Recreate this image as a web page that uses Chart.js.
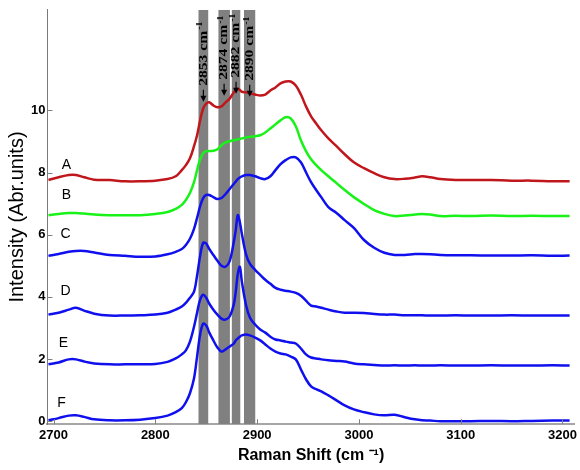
<!DOCTYPE html>
<html>
<head>
<meta charset="utf-8">
<script src="https://cdn.jsdelivr.net/npm/chart.js@4.4.1/dist/chart.umd.min.js"></script>
<style>
    html, body { margin: 0; padding: 0; background: #fff; }
</style>
</head>
<body>
<canvas id="raman_chart" width="580" height="470"></canvas>
<script>
// 라만 스펙트럼 데이터 (x: cm-1)
var wavenumber = [2695, 2705, 2715, 2722, 2730, 2740, 2755, 2770, 2785, 2800,
    2812, 2820, 2826, 2830, 2834, 2838, 2841, 2844, 2847, 2850,
    2853, 2857, 2861, 2865, 2869, 2873, 2877, 2879, 2881, 2883,
    2885, 2889, 2893, 2898, 2903, 2908, 2913, 2918, 2923, 2928,
    2933, 2938, 2943, 2948, 2953, 2958, 2963, 2970, 2978, 2986,
    2995, 3005, 3015, 3025, 3035, 3045, 3055, 3062, 3070, 3080,
    3095, 3110, 3130, 3150, 3170, 3190, 3207];

var seriesA = [7.76, 7.85, 7.92, 7.92, 7.85, 7.77, 7.76, 7.72, 7.72, 7.74,
    7.79, 7.88, 8.08, 8.24, 8.46, 8.85, 9.2, 9.68, 10.06, 10.22,
    10.26, 10.16, 10.1, 10.13, 10.26, 10.38, 10.58, 10.66, 10.7, 10.66,
    10.6, 10.58, 10.55, 10.51, 10.48, 10.51, 10.64, 10.74, 10.87, 10.93,
    10.93, 10.8, 10.51, 10.13, 9.81, 9.58, 9.36, 9.1, 8.85, 8.59,
    8.33, 8.14, 7.98, 7.85, 7.79, 7.8, 7.84, 7.88, 7.85, 7.79,
    7.76, 7.76, 7.76, 7.74, 7.74, 7.72, 7.72];
var seriesB = [6.63, 6.67, 6.7, 6.7, 6.68, 6.65, 6.63, 6.63, 6.63, 6.67,
    6.73, 6.83, 6.96, 7.12, 7.34, 7.69, 8.08, 8.43, 8.62, 8.69,
    8.69, 8.7, 8.75, 8.88, 8.97, 9.01, 9.04, 9.05, 9.07, 9.08,
    9.1, 9.13, 9.15, 9.17, 9.2, 9.29, 9.42, 9.55, 9.68, 9.78,
    9.74, 9.49, 9.04, 8.69, 8.43, 8.24, 8.08, 7.88, 7.66, 7.44,
    7.21, 6.99, 6.79, 6.67, 6.6, 6.62, 6.65, 6.67, 6.65, 6.6,
    6.61, 6.6, 6.62, 6.6, 6.61, 6.6, 6.6];
var seriesC = [5.32, 5.38, 5.45, 5.48, 5.48, 5.43, 5.35, 5.32, 5.29, 5.3,
    5.37, 5.45, 5.54, 5.67, 5.87, 6.19, 6.54, 6.92, 7.18, 7.28,
    7.28, 7.21, 7.15, 7.18, 7.31, 7.47, 7.63, 7.71, 7.79, 7.84,
    7.88, 7.92, 7.92, 7.88, 7.82, 7.79, 7.88, 8.08, 8.27, 8.4,
    8.49, 8.49, 8.33, 8.01, 7.69, 7.44, 7.21, 6.89, 6.7, 6.47,
    6.22, 5.83, 5.58, 5.42, 5.35, 5.35, 5.38, 5.38, 5.37, 5.35,
    5.34, 5.34, 5.33, 5.33, 5.34, 5.32, 5.33];
var seriesD = [3.43, 3.49, 3.59, 3.65, 3.56, 3.46, 3.4, 3.4, 3.41, 3.43,
    3.49, 3.59, 3.69, 3.81, 3.97, 4.17, 4.68, 5.32, 5.74, 5.71,
    5.54, 5.35, 5.16, 5.0, 4.97, 5.15, 5.75, 6.15, 6.63, 6.41,
    6.03, 5.38, 5.06, 4.87, 4.71, 4.55, 4.42, 4.29, 4.23, 4.2,
    4.17, 4.13, 4.04, 3.88, 3.72, 3.69, 3.65, 3.59, 3.53, 3.49,
    3.49, 3.48, 3.45, 3.43, 3.43, 3.41, 3.41, 3.41, 3.4, 3.4,
    3.41, 3.4, 3.4, 3.41, 3.4, 3.4, 3.4];
var seriesE = [1.83, 1.89, 1.99, 1.99, 1.92, 1.86, 1.83, 1.83, 1.83, 1.84,
    1.91, 2.02, 2.15, 2.28, 2.56, 3.04, 3.49, 3.91, 4.07, 3.97,
    3.78, 3.59, 3.43, 3.3, 3.27, 3.37, 3.75, 4.17, 4.74, 4.97,
    4.49, 3.75, 3.33, 3.11, 2.95, 2.85, 2.72, 2.63, 2.6, 2.56,
    2.53, 2.5, 2.34, 2.15, 2.05, 2.02, 1.99, 1.96, 1.94, 1.92,
    1.86, 1.83, 1.81, 1.79, 1.8, 1.79, 1.8, 1.79, 1.79, 1.8,
    1.79, 1.79, 1.8, 1.79, 1.79, 1.8, 1.79];
var seriesF = [0.03, 0.1, 0.18, 0.19, 0.14, 0.06, 0.03, 0.03, 0.05, 0.1,
    0.18, 0.29, 0.42, 0.61, 0.9, 1.38, 2.08, 2.79, 3.14, 3.08,
    2.85, 2.6, 2.37, 2.24, 2.31, 2.4, 2.5, 2.6, 2.66, 2.72,
    2.76, 2.79, 2.76, 2.69, 2.6, 2.47, 2.34, 2.24, 2.18, 2.15,
    2.08, 1.99, 1.67, 1.35, 1.12, 1.03, 0.96, 0.83, 0.67, 0.51,
    0.38, 0.29, 0.22, 0.19, 0.21, 0.13, 0.06, 0.03, 0.02, 0.0,
    0.0, 0.0, 0.01, 0.0, 0.01, 0.02, 0.02];

var seriesNames = ["A", "B", "C", "D", "E", "F"];
var letterX = [2712.6, 2712.6, 2711.7, 2711.7, 2709.7, 2707.7];
var letterY = [8.24, 7.28, 6.03, 4.17, 2.5, 0.58];

// 회색 밴드 (cm-1)
var bandStart = [2842.2, 2861.8, 2874.9, 2887.0];
var bandEnd = [2852.2, 2873.3, 2883.7, 2898.4];
var bandLabels = ["2853", "2874", "2882", "2890"];

var xTicks = [2700, 2800, 2900, 3000, 3100, 3200];
var yTicks = [0, 2, 4, 6, 8, 10];
var xMin = 2694, xMax = 3212;
var yMin = -0.096, yMax = 13.237;

var sansFont = "'Liberation Sans', Arial, sans-serif";
var serifFont = "'Liberation Serif', 'Times New Roman', serif";

var allSeries = [seriesA, seriesB, seriesC, seriesD, seriesE, seriesF];
var lineColors = ["#c0171d", "#19f219", "#1010ee", "#1010ee", "#1010ee", "#1010ee"];

var datasets = [];
for (var i = 0; i < allSeries.length; i++) {
    datasets.push({
        label: seriesNames[i],
        data: wavenumber.map(function (w, k) { return {x: w, y: allSeries[i][k]}; }),
        borderColor: lineColors[i],
        borderWidth: 2.5,
        pointRadius: 0,
        fill: false,
        tension: 0.35,
        order: 0
    });
}
for (var b = 0; b < bandStart.length; b++) {
    datasets.push({
        label: bandLabels[b],
        data: [{x: bandStart[b], y: yMax}, {x: bandEnd[b], y: yMax}],
        borderWidth: 0,
        borderColor: 'rgba(0,0,0,0)',
        backgroundColor: '#808080',
        pointRadius: 0,
        fill: 'start',
        order: 10
    });
}

// 안쪽 눈금
var tickMarkPlugin = {
    id: 'tickMarks',
    afterDatasetsDraw: function (chart) {
        var ctx = chart.ctx, a = chart.chartArea, xs = chart.scales.x, ys = chart.scales.y;
        ctx.save();
        ctx.strokeStyle = '#808080';
        ctx.lineWidth = 1;
        ctx.beginPath();
        xTicks.forEach(function (v) {
            var p = Math.round(xs.getPixelForValue(v)) + 0.5;
            ctx.moveTo(p, a.bottom);
            ctx.lineTo(p, a.bottom - 5);
        });
        yTicks.forEach(function (v) {
            var p = Math.round(ys.getPixelForValue(v)) + 0.5;
            ctx.moveTo(a.left, p);
            ctx.lineTo(a.left + 5, p);
        });
        ctx.stroke();
        ctx.restore();
    }
};

// 밴드 라벨 + 화살표, 곡선 이름
var textBase = [76, 70, 68, 71];
var annotationPlugin = {
    id: 'annotations',
    afterDatasetsDraw: function (chart) {
        var ctx = chart.ctx, a = chart.chartArea, xs = chart.scales.x, ys = chart.scales.y;
        ctx.save();
        ctx.fillStyle = '#000';
        ctx.strokeStyle = '#000';
        for (var i = 0; i < bandLabels.length; i++) {
            var cx = xs.getPixelForValue((bandStart[i] + bandEnd[i]) / 2);
            var base = a.top + textBase[i];
            ctx.save();
            ctx.translate(cx, base);
            ctx.rotate(-Math.PI / 2);
            ctx.scale(1.2, 1);
            ctx.textAlign = 'left';
            ctx.textBaseline = 'middle';
            ctx.font = "bold 13px " + serifFont;
            var txt = bandLabels[i] + " cm";
            ctx.fillText(txt, 0, 0);
            var w = ctx.measureText(txt).width;
            ctx.font = "bold 8px " + serifFont;
            ctx.fillText("-1", w + 1, -3);
            ctx.restore();
            // 화살표
            ctx.lineWidth = 1.2;
            ctx.beginPath();
            ctx.moveTo(cx, base + 4);
            ctx.lineTo(cx, base + 13);
            ctx.stroke();
            ctx.beginPath();
            ctx.moveTo(cx - 3, base + 10);
            ctx.lineTo(cx + 3, base + 10);
            ctx.lineTo(cx, base + 16);
            ctx.closePath();
            ctx.fill();
        }
        ctx.font = "14px " + sansFont;
        ctx.textAlign = 'center';
        ctx.textBaseline = 'middle';
        for (var k = 0; k < seriesNames.length; k++) {
            ctx.fillText(seriesNames[k], xs.getPixelForValue(letterX[k]), ys.getPixelForValue(letterY[k]));
        }
        ctx.restore();
    }
};

new Chart(document.getElementById("raman_chart").getContext("2d"), {
    type: 'line',
    data: {datasets: datasets},
    plugins: [tickMarkPlugin, annotationPlugin],
    options: {
        responsive: false,
        animation: false,
        layout: {padding: {left: 5, right: 3, top: -4, bottom: 5}, autoPadding: false},
        plugins: {
            legend: {display: false},
            tooltip: {enabled: false}
        },
        scales: {
            x: {
                type: 'linear',
                min: xMin,
                max: xMax,
                afterBuildTicks: function (axis) {
                    axis.ticks = xTicks.map(function (v) { return {value: v}; });
                },
                ticks: {
                    autoSkip: false,
                    maxRotation: 0,
                    padding: 3,
                    color: '#000',
                    font: {family: sansFont, size: 13, weight: 'bold'},
                    callback: function (v) { return String(v); }
                },
                grid: {display: true, drawOnChartArea: false, drawTicks: false},
                border: {color: '#a6a6a6', width: 2},
                title: {
                    display: true,
                    text: 'Raman Shift (cm \u207B\u00B9)',
                    color: '#000',
                    font: {family: sansFont, size: 16, weight: 'bold'},
                    padding: {top: 0, bottom: 0}
                }
            },
            y: {
                type: 'linear',
                min: yMin,
                max: yMax,
                afterBuildTicks: function (axis) {
                    axis.ticks = yTicks.map(function (v) { return {value: v}; });
                },
                ticks: {
                    padding: 2,
                    color: '#000',
                    font: {family: sansFont, size: 13, weight: 'bold'},
                    callback: function (v) { return String(v); }
                },
                grid: {display: true, drawOnChartArea: false, drawTicks: false},
                border: {color: '#7a7a7a', width: 1},
                title: {
                    display: true,
                    text: 'Intensity (Abr.units)',
                    color: '#000',
                    font: {family: sansFont, size: 20, weight: 'normal'},
                    padding: {top: 0, bottom: 0}
                }
            }
        }
    }
});
</script>
</body>
</html>
